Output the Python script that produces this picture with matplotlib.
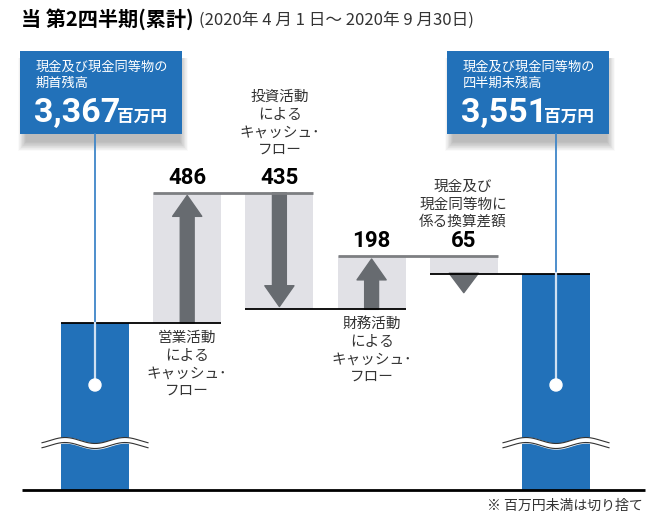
import numpy as np
import matplotlib
matplotlib.use("Agg")
import matplotlib.pyplot as plt
from matplotlib.patches import Rectangle, Circle, FancyArrowPatch
from matplotlib.transforms import ScaledTranslation

plt.rcParams['font.family'] = ['Noto Sans CJK JP', 'DejaVu Sans']

# data (百万円)
start_label = '現金及び現金同等物の\n期首残高'
end_label = '現金及び現金同等物の\n四半期末残高'
start_value = 3367
end_value = 3551
flow_labels = ['営業活動\nによる\nキャッシュ･\nフロー',
               '投資活動\nによる\nキャッシュ･\nフロー',
               '財務活動\nによる\nキャッシュ･\nフロー',
               '現金及び\n現金同等物に\n係る換算差額']
flow_values = [486, -435, 198, -65]

BLUE = '#2271b9'
GRAY_BOX = '#e1e1e6'
ARROW = '#676b70'
LINE_GRAY = '#7d7f82'
TXT = '#333333'
NUM_FONT = ['Liberation Sans Narrow', 'Roboto', 'DejaVu Sans']

fig = plt.figure(figsize=(6.65, 5.16), dpi=100)
ax = fig.add_axes([0, 0, 1, 1])
ax.set_xlim(0, 665)
ax.set_ylim(2647, 4572)
ax.axis('off')

# overlay in pixel coords for texts / decorations
ov = fig.add_axes([0, 0, 1, 1], zorder=5)
ov.set_xlim(0, 665)
ov.set_ylim(516, 0)
ov.axis('off')
ov.patch.set_alpha(0)

base = 2744          # broken axis base
xs = 95 + 92.2 * np.arange(6)
w = 68

# cumulative levels
levels = [start_value]
for v in flow_values:
    levels.append(levels[-1] + v)

# blue bars
ax.bar([xs[0], xs[-1]], [start_value - base, end_value - base], bottom=base,
       width=w, color=BLUE, zorder=2)

# flow boxes + arrows
for i, v in enumerate(flow_values):
    x = xs[i + 1]
    lo, hi = min(levels[i], levels[i + 1]), max(levels[i], levels[i + 1])
    ax.bar(x, hi - lo, bottom=lo, width=w, color=GRAY_BOX, zorder=1)
    if abs(v) > 100:
        arr = FancyArrowPatch((x, levels[i]), (x, levels[i + 1]),
                              arrowstyle='simple,head_length=1.5,head_width=2.1,tail_width=1.0',
                              mutation_scale=10, color=ARROW, shrinkA=0, shrinkB=2, zorder=3)
        ax.add_patch(arr)
    else:
        # small change: head only, hanging below the line
        off = ax.transData + ScaledTranslation(0, -0.19, fig.dpi_scale_trans)
        ax.annotate('', xy=(x, levels[i + 1]), xycoords=off,
                    xytext=(x, levels[i + 1]), textcoords='data',
                    arrowprops=dict(arrowstyle='simple,head_length=1.4,head_width=2.1,tail_width=0.01',
                                    mutation_scale=10, color=ARROW, shrinkA=0, shrinkB=0),
                    zorder=3)
    # value label
    ax.annotate(f'{abs(v)}', xy=(x, hi), xytext=(0, 3), textcoords='offset points',
                ha='center', va='bottom', fontsize=16, fontweight='bold',
                family=NUM_FONT, color='black')

# connector lines
for i in range(5):
    lvl = levels[i]
    top = i > 0 and flow_values[i - 1] > 0 and i < 4 and flow_values[i] < 0
    col = LINE_GRAY if top else 'black'
    lw = 2 if top else 1.3
    ax.hlines(lvl, xs[i] - w / 2, xs[i + 1] + w / 2, color=col, lw=lw, zorder=4)

# baseline
ax.hlines(base, 22, 645, color='black', lw=2, zorder=4)

# category labels
lab_pos = [(187, 331, 'top'), (280, 157, 'bottom'), (372, 317, 'top'), (463, 229, 'bottom')]
for (x, y, va), t in zip(lab_pos, flow_labels):
    ov.text(x, y, t, ha='center', va=va, fontsize=10.5, color=TXT, linespacing=1.33)

# callout boxes
bw, bt, bh = 162, 51, 83
for bx, lab, val, cx in [(20, start_label, start_value, xs[0]), (447, end_label, end_value, xs[-1])]:
    for k in range(14):
        ov.add_patch(Rectangle((bx - k * 0.6 + 6, bt + 8 - k * 0.1), bw + k * 1.2 - 8, bh + k * 0.8,
                               color='black', alpha=0.02, lw=0, zorder=1))
    ov.add_patch(Rectangle((bx, bt), bw, bh, color=BLUE, lw=0, zorder=2))
    ov.text(bx + 16, 61, lab, ha='left', va='top', fontsize=9.5, color='white',
            linespacing=1.25, zorder=3)
    ov.text(bx + 14, 122, f'{val:,}', ha='left', va='baseline', fontsize=24.5,
            fontweight='bold', family=NUM_FONT, color='white', zorder=3)
    ov.text(bx + 97, 122, '百万円', ha='left', va='baseline', fontsize=12,
            fontweight='bold', color='white', zorder=3)
    # pointer line + dot
    bar_top = 323 if bx < 300 else 273
    ov.plot([cx, cx], [bt + bh, bar_top], color='#3f86c8', lw=1.3, zorder=3)
    ov.plot([cx, cx], [bar_top, 385], color='#cfe0f2', lw=1.6, zorder=3)
    ov.add_patch(Circle((cx, 385), 6, color='white', zorder=4))
    # axis break
    wx = np.linspace(cx - 53, cx + 53, 200)
    wy = 443 + 3 * np.sin(2 * np.pi * (wx - cx + 15) / 60)
    ov.fill_between(wx, wy - 2.5, wy + 2.5, color='white', zorder=3)
    ov.plot(wx, wy - 2.5, color='#333333', lw=0.8, zorder=4)
    ov.plot(wx, wy + 2.5, color='#333333', lw=0.8, zorder=4)

# title
ov.text(21, 19, '当 第2四半期(累計)', ha='left', va='center', fontsize=14.5,
        fontweight='bold', color='black')
ov.text(199, 20, '(2020年 4 月 1 日～ 2020年 9 月30日)', ha='left', va='center',
        fontsize=12, color=TXT)

# note
ov.text(643, 506, '※ 百万円未満は切り捨て', ha='right', va='center', fontsize=10, color=TXT)

fig.savefig('out.png', dpi=100)
